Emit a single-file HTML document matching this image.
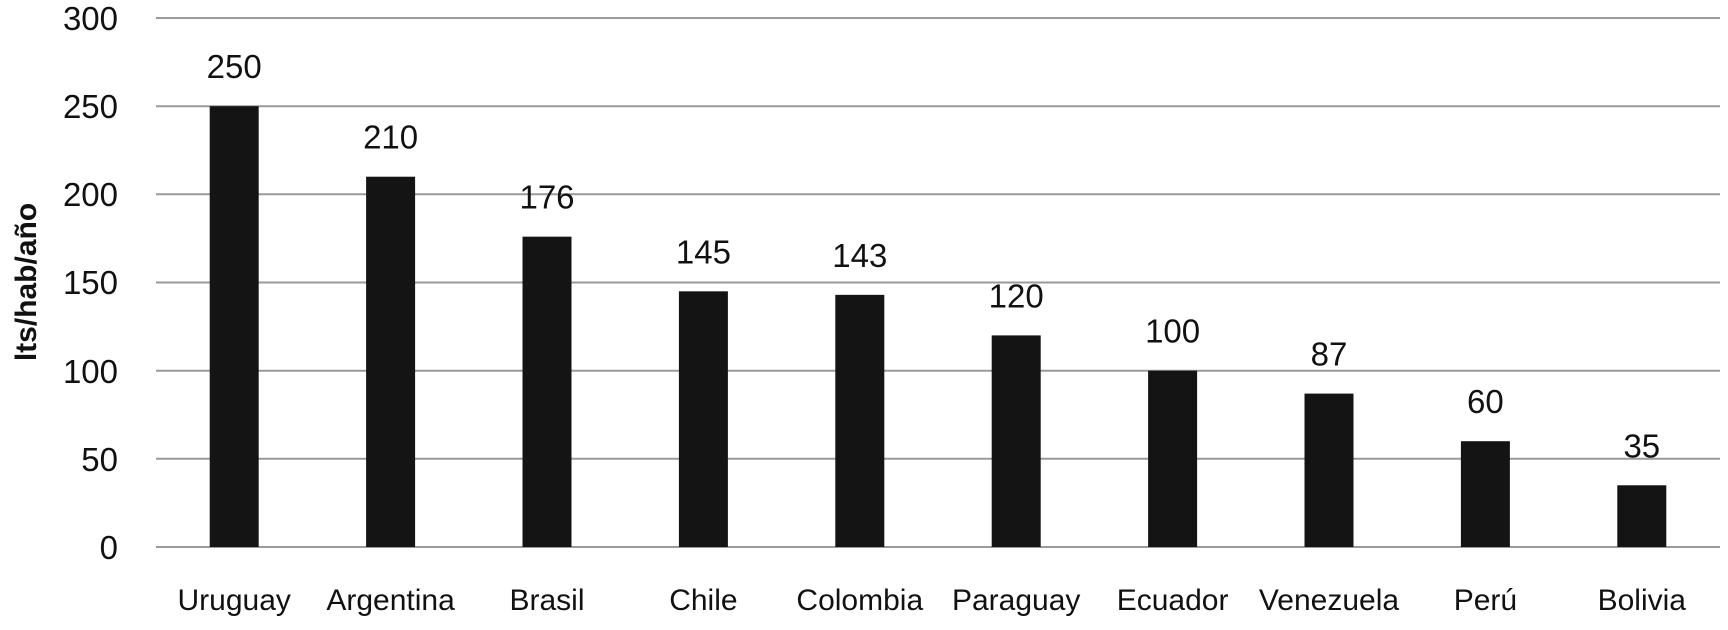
<!DOCTYPE html>
<html><head><meta charset="utf-8"><style>body{margin:0;background:#fff}</style></head><body>
<svg width="1728" height="625" xmlns="http://www.w3.org/2000/svg" font-family="'Liberation Sans', sans-serif" font-size="33">
<g stroke="#9a9a9a" stroke-width="2">
<line x1="156" x2="1720" y1="18" y2="18"/><line x1="156" x2="1720" y1="106.2" y2="106.2"/><line x1="156" x2="1720" y1="194.3" y2="194.3"/><line x1="156" x2="1720" y1="282.5" y2="282.5"/><line x1="156" x2="1720" y1="370.7" y2="370.7"/><line x1="156" x2="1720" y1="458.8" y2="458.8"/><line x1="156" x2="1720" y1="547" y2="547"/>
</g>
<g text-anchor="end" fill="#111">
<text x="118" y="30">300</text><text x="118" y="118">250</text><text x="118" y="206">200</text><text x="118" y="294">150</text><text x="118" y="383">100</text><text x="118" y="471">50</text><text x="118" y="559">0</text>
</g>
<text transform="translate(36,282) rotate(-90)" text-anchor="middle" font-weight="bold" font-size="30" fill="#111">lts/hab/año</text>
<g fill="#141414" id="bars"></g>
<g id="vals" text-anchor="middle" fill="#111"></g>
<g id="cats" text-anchor="middle" fill="#111" font-size="30"></g>
<script>
var d=[["Uruguay",250],["Argentina",210],["Brasil",176],["Chile",145],["Colombia",143],["Paraguay",120],["Ecuador",100],["Venezuela",87],["Perú",60],["Bolivia",35]];
var ns="http://www.w3.org/2000/svg",b=document.getElementById("bars"),v=document.getElementById("vals"),c=document.getElementById("cats");
d.forEach(function(e,i){var cx=156+156.4*(i+0.5),top=547-e[1]*1.7633;
var r=document.createElementNS(ns,"rect");r.setAttribute("x",cx-24.5);r.setAttribute("y",top);r.setAttribute("width",49);r.setAttribute("height",547-top);b.appendChild(r);
var t=document.createElementNS(ns,"text");t.setAttribute("x",cx);t.setAttribute("y",top-28);t.textContent=e[1];v.appendChild(t);
var u=document.createElementNS(ns,"text");u.setAttribute("x",cx);u.setAttribute("y",610);u.textContent=e[0];c.appendChild(u);});
</script>
</svg>
</body></html>
